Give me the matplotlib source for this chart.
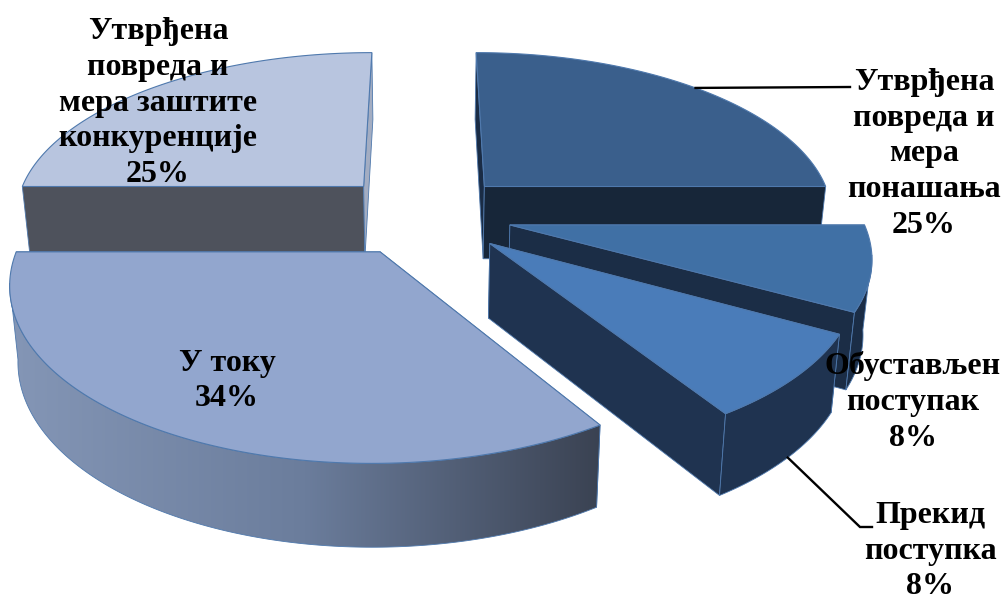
#!/usr/bin/env python

import numpy as np
import matplotlib as mpl
mpl.use('Agg')
import matplotlib.pyplot as plt
from matplotlib.colors import LinearSegmentedColormap
from matplotlib.patches import Polygon

plt.rcParams['font.family'] = ['Liberation Serif', 'DejaVu Serif']

categories = [
    'Утврђена\nповреда и\nмера\nпонашања',
    'Обустављен\nпоступак',
    'Прекид\nпоступка',
    'У току',
    'Утврђена\nповреда и\nмера заштите\nконкуренције',
]
shares = [25, 8, 8, 34, 25]

top_colors = ['#3a5f8c', '#4070a5', '#4a7cb9', '#92a6ce', '#b8c5df']
start_face_colors = ['#1a2c45', '#1b2d46', '#1f3350', '#5c6a85', '#4e525c']
end_face_colors = ['#172639', '#1b2d46', '#1f3350', '#5c6a85', '#a3adc2']
rim_colors = ['#172639', '#1b2d46', '#1f3350', None, '#4e525c']
edge_color = '#4f79ad'

# label centres and leader elbows, in pixels
label_pos = [(924, 154), (913, 402), (930, 551), (227, 381), (158, 103)]
leader_ends = [[(850, 87)], None, [(860, 527), (872, 527)], None, None]

# pie shape and camera
RADIUS = 364.
EXPLODE = 91.
CENTER_Z = 80.
VP_X, VP_Y = 424., -800.
PLANE_H = 1052.
DEPTH = 2174.
BOTTOM_SHRINK = 0.98
# part of the wall facing the camera, between its two silhouette lines
RIM_FROM, RIM_TO = 100., 260.


def project(x, z, bottom=False):
    """ Perspective projection of pie-plane coordinates to pixels """
    s = 1. / (1. + z / DEPTH)
    if bottom:
        return VP_X + x * s * BOTTOM_SHRINK, VP_Y + PLANE_H * s + 31. + 44. * s
    return VP_X + x * s, VP_Y + PLANE_H * s


def arc_points(theta0, theta1, mid, bottom=False, n=160):
    """ Rim of one exploded slice, angles clockwise from 12 o'clock """
    theta = np.radians(np.linspace(theta0, theta1, n))
    cx = EXPLODE * np.sin(np.radians(mid))
    cz = CENTER_Z + EXPLODE * np.cos(np.radians(mid))
    return project(cx + RADIUS * np.sin(theta), cz + RADIUS * np.cos(theta), bottom)


def apex_point(mid, bottom=False):
    cx = EXPLODE * np.sin(np.radians(mid))
    cz = CENTER_Z + EXPLODE * np.cos(np.radians(mid))
    return project(cx, cz, bottom)


def draw_face(ax, theta, mid, color, z):
    ax0, ay0 = apex_point(mid)
    ax1, ay1 = apex_point(mid, bottom=True)
    ex0, ey0 = arc_points(theta, theta, mid, n=1)
    ex1, ey1 = arc_points(theta, theta, mid, bottom=True, n=1)
    ax.fill([ax0, ex0[0], ex1[0], ax1], [ay0, ey0[0], ey1[0], ay1],
            facecolor=color, edgecolor=edge_color, lw=0.6, zorder=z)


def draw_rim(ax, theta0, theta1, mid, color, z):
    theta0, theta1 = max(theta0, RIM_FROM), min(theta1, RIM_TO)
    if theta1 <= theta0:
        return
    xt, yt = arc_points(theta0, theta1, mid)
    xb, yb = arc_points(theta0, theta1, mid, bottom=True)
    verts = np.c_[np.r_[xt, xb[::-1]], np.r_[yt, yb[::-1]]]
    if color is not None:
        ax.add_patch(Polygon(verts, closed=True, facecolor=color, edgecolor=edge_color,
                             lw=0.6, zorder=z))
        return
    # shaded wall of the large slice
    cmap = LinearSegmentedColormap.from_list('wall', ['#8496b6', '#6b7d9c', '#3a4252'])
    im = ax.imshow(np.linspace(0, 1, 256)[None, :], cmap=cmap, aspect='auto',
                   extent=(verts[:, 0].min(), verts[:, 0].max(), 603, 0), zorder=z)
    outline = Polygon(verts, closed=True, facecolor='none', edgecolor=edge_color,
                      lw=0.6, zorder=z + 0.1)
    ax.add_patch(outline)
    im.set_clip_path(outline)


def draw_slice(ax, theta0, theta1, idx, z):
    mid = (theta0 + theta1) / 2.
    draw_face(ax, theta0, mid, start_face_colors[idx], z)
    draw_face(ax, theta1, mid, end_face_colors[idx], z + 0.1)
    draw_rim(ax, theta0, theta1, mid, rim_colors[idx], z + 0.2)

    # top surface
    xt, yt = arc_points(theta0, theta1, mid)
    ax0, ay0 = apex_point(mid)
    ax.fill(np.r_[ax0, xt], np.r_[ay0, yt], facecolor=top_colors[idx],
            edgecolor=edge_color, lw=0.8, zorder=z + 0.5)


def main():
    fig = plt.figure(figsize=(10.04, 6.03), dpi=100)
    ax = fig.add_axes([0, 0, 1, 1])

    # slice angles from the shares
    edges = np.r_[0, np.cumsum(shares)] * 360. / np.sum(shares)

    # back slices first, so the front ones overlap them
    for z, idx in enumerate((0, 4, 1, 2, 3)):
        draw_slice(ax, edges[idx], edges[idx + 1], idx, z + 1)

    ax.set_xlim(0, 1004)
    ax.set_ylim(603, 0)
    ax.axis('off')

    # leader lines leave the rim at the middle of the slice
    for idx, ends in enumerate(leader_ends):
        if ends is None:
            continue
        mid = (edges[idx] + edges[idx + 1]) / 2.
        x0, y0 = arc_points(mid, mid, mid, bottom=idx == 2, n=1)
        xs = [x0[0]] + [p[0] for p in ends]
        ys = [y0[0]] + [p[1] for p in ends]
        ax.plot(xs, ys, color='black', lw=1.7, solid_joinstyle='miter', zorder=8)

    for idx, cat in enumerate(categories):
        ax.text(label_pos[idx][0], label_pos[idx][1], f'{cat}\n{shares[idx]}%',
                ha='center', va='center', multialignment='center',
                fontsize=23, fontweight='bold', color='black', linespacing=1.3, zorder=9)

    fig.savefig('out.png', dpi=100)


if __name__ == "__main__":
    main()
